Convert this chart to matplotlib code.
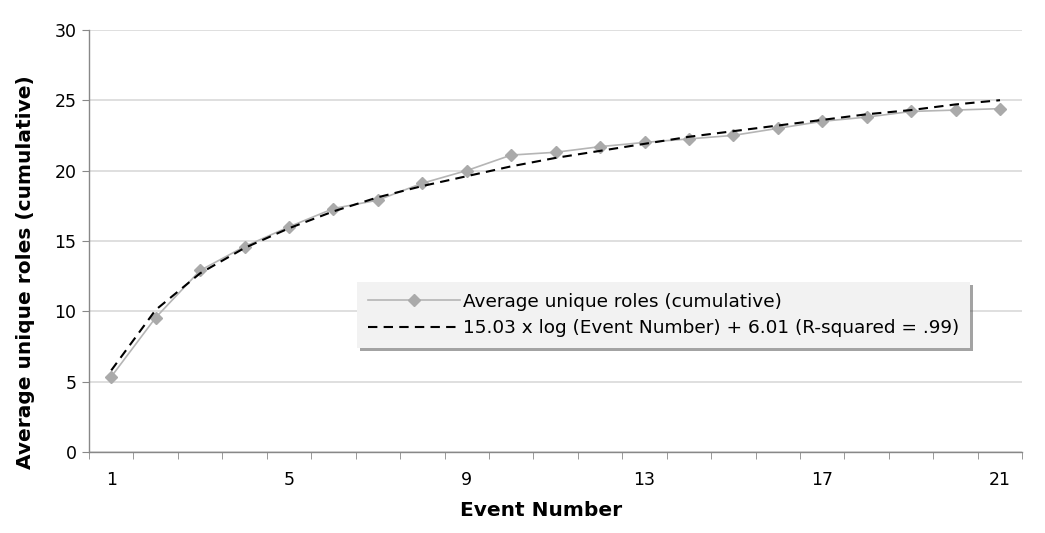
import matplotlib
matplotlib.use("Agg")
import matplotlib.pyplot as plt

# values
events = list(range(1, 22))
avg_roles = [5.35, 9.55, 12.9, 14.6, 16.0, 17.3, 17.9, 19.1, 20.0, 21.1, 21.3,
             21.7, 22.0, 22.25, 22.5, 23.0, 23.5, 23.8, 24.2, 24.3, 24.4]
fit_roles = [5.8, 10.1, 12.7, 14.5, 15.9, 17.1, 18.1, 18.9, 19.6, 20.3, 20.9,
             21.4, 21.9, 22.4, 22.8, 23.2, 23.6, 24.0, 24.3, 24.7, 25.0]
x_labels = [1, 5, 9, 13, 17, 21]
y_ticks = [0, 5, 10, 15, 20, 25, 30]

series_label = "Average unique roles (cumulative)"
fit_label = "15.03 x log (Event Number) + 6.01 (R-squared = .99)"

plt.rcParams["font.family"] = ["DejaVu Sans"]

fig = plt.figure(figsize=(10.45, 5.33), dpi=100)
ax = fig.add_axes([0.0852, 0.152, 0.893, 0.792])

ax.plot(events, avg_roles, color="#b5b5b5", lw=1.2, marker="D", ms=6.5,
        mfc="#aaaaaa", mec="#aaaaaa", label=series_label, zorder=3)
ax.plot(events, fit_roles, color="black", lw=1.5, ls=(0, (4.5, 3)),
        label=fit_label, zorder=4)

ax.set_xlim(0.5, 21.5)
ax.set_ylim(0, 30)
ax.set_yticks(y_ticks)
ax.set_xticks(x_labels)
ax.set_xticks([e - 0.5 for e in events] + [21.5], minor=True)
ax.tick_params(axis="x", which="major", length=0, pad=14, labelsize=12.5)
ax.tick_params(axis="x", which="minor", length=5, color="#888888", direction="out")
ax.tick_params(axis="y", length=5, color="#888888", labelsize=12.5, pad=4)

ax.grid(axis="y", color="#d9d9d9", lw=1.2, zorder=0)
ax.set_axisbelow(True)
for side in ("top", "right"):
    ax.spines[side].set_visible(False)
for side in ("left", "bottom"):
    ax.spines[side].set_color("#888888")
    ax.spines[side].set_linewidth(1)

ax.set_xlabel("Event Number", fontsize=14.5, fontweight="bold")
ax.set_ylabel("Average unique roles (cumulative)", fontsize=14.5, fontweight="bold")
ax.xaxis.set_label_coords(0.484, -0.117)
ax.yaxis.set_label_coords(-0.058, 0.427)

leg = ax.legend(loc="upper left", bbox_to_anchor=(0.287, 0.403), borderaxespad=0,
                fontsize=13.3, handlelength=5.0, handletextpad=0.15,
                borderpad=0.6, labelspacing=0.45, fancybox=False, shadow=True,
                facecolor="#f2f2f2", edgecolor="#f2f2f2", framealpha=1)
leg.get_frame().set_linewidth(0)

fig.savefig("out.png", dpi=100)
